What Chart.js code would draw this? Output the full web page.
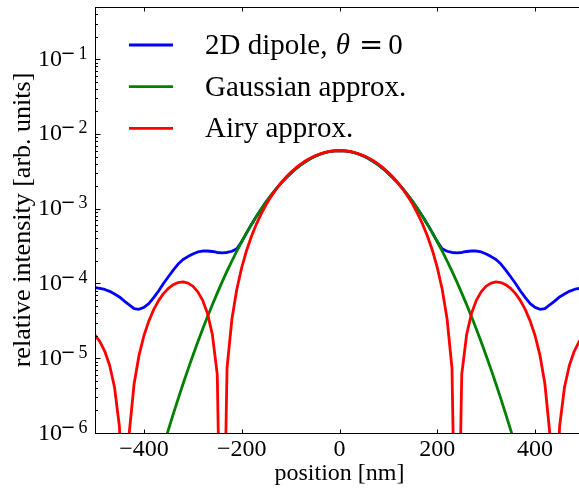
<!DOCTYPE html>
<html>
<head>
<meta charset="utf-8">
<title>Point spread function profiles</title>
<script src="https://cdn.jsdelivr.net/npm/chart.js@4.4.1/dist/chart.umd.min.js"></script>
<style>
  html, body { margin: 0; padding: 0; background: #fff; overflow: hidden; width: 579px; height: 488px; }
  canvas { display: block; }
</style>
</head>
<body>
<canvas id="psf" width="600" height="488" style="width:600px;height:488px"></canvas>
<script>
// Lateral position of each sample [nm]
const positions = [
  -500, -490, -480, -470, -460, -450, -440, -430, -420, -410,
  -400, -390, -380, -370, -360, -350, -340, -330, -320, -310,
  -300, -290, -280, -270, -260, -250, -240, -230, -220, -210,
  -200, -190, -180, -170, -160, -150, -140, -130, -120, -110,
  -100, -90, -80, -70, -60, -50, -40, -30, -20, -10,
  0,
  10, 20, 30, 40, 50, 60, 70, 80, 90, 100,
  110, 120, 130, 140, 150, 160, 170, 180, 190, 200,
  210, 220, 230, 240, 250, 260, 270, 280, 290, 300,
  310, 320, 330, 340, 350, 360, 370, 380, 390, 400,
  410, 420, 430, 440, 450, 460, 470, 480, 490, 500
];

// Relative intensity of the in-plane dipole (theta = 0)
const dipole = [
  8.81e-5, 8.61e-5, 8.32e-5, 7.85e-5, 7.24e-5, 6.61e-5, 5.82e-5, 5.19e-5, 4.62e-5, 4.52e-5,
  4.79e-5, 5.37e-5, 6.46e-5, 7.94e-5, 1.00e-4, 1.23e-4, 1.51e-4, 1.82e-4, 2.09e-4, 2.29e-4,
  2.48e-4, 2.64e-4, 2.72e-4, 2.72e-4, 2.68e-4, 2.60e-4, 2.57e-4, 2.60e-4, 2.70e-4, 2.92e-4,
  3.63e-4, 4.75e-4, 6.17e-4, 7.88e-4, 9.94e-4, 1.236e-3, 1.515e-3, 1.831e-3, 2.183e-3, 2.565e-3,
  2.973e-3, 3.397e-3, 3.828e-3, 4.252e-3, 4.660e-3, 5.033e-3, 5.363e-3, 5.632e-3, 5.834e-3, 5.958e-3,
  6.00e-3,
  5.958e-3, 5.834e-3, 5.632e-3, 5.363e-3, 5.033e-3, 4.660e-3, 4.252e-3, 3.828e-3, 3.397e-3, 2.973e-3,
  2.565e-3, 2.183e-3, 1.831e-3, 1.515e-3, 1.236e-3, 9.94e-4, 7.88e-4, 6.17e-4, 4.75e-4, 3.63e-4,
  2.92e-4, 2.70e-4, 2.60e-4, 2.57e-4, 2.60e-4, 2.68e-4, 2.72e-4, 2.72e-4, 2.64e-4, 2.48e-4,
  2.29e-4, 2.09e-4, 1.82e-4, 1.51e-4, 1.23e-4, 1.00e-4, 7.94e-5, 6.46e-5, 5.37e-5, 4.79e-5,
  4.52e-5, 4.62e-5, 5.19e-5, 5.82e-5, 6.61e-5, 7.24e-5, 7.85e-5, 8.32e-5, 8.61e-5, 8.81e-5
];

// Gaussian approximation of the spot
const gaussian = [
  1.42e-10, 2.85e-10, 5.64e-10, 1.10e-9, 2.11e-9, 4.00e-9, 7.47e-9, 1.38e-8, 2.50e-8, 4.48e-8,
  7.91e-8, 1.38e-7, 2.37e-7, 4.01e-7, 6.69e-7, 1.101e-6, 1.788e-6, 2.86e-6, 4.52e-6, 7.04e-6,
  1.079e-5, 1.633e-5, 2.44e-5, 3.59e-5, 5.21e-5, 7.44e-5, 1.050e-4, 1.461e-4, 2.00e-4, 2.71e-4,
  3.62e-4, 4.75e-4, 6.17e-4, 7.88e-4, 9.94e-4, 1.236e-3, 1.515e-3, 1.831e-3, 2.183e-3, 2.565e-3,
  2.973e-3, 3.397e-3, 3.828e-3, 4.252e-3, 4.660e-3, 5.033e-3, 5.363e-3, 5.632e-3, 5.834e-3, 5.958e-3,
  6.00e-3,
  5.958e-3, 5.834e-3, 5.632e-3, 5.363e-3, 5.033e-3, 4.660e-3, 4.252e-3, 3.828e-3, 3.397e-3, 2.973e-3,
  2.565e-3, 2.183e-3, 1.831e-3, 1.515e-3, 1.236e-3, 9.94e-4, 7.88e-4, 6.17e-4, 4.75e-4, 3.62e-4,
  2.71e-4, 2.00e-4, 1.461e-4, 1.050e-4, 7.44e-5, 5.21e-5, 3.59e-5, 2.44e-5, 1.633e-5, 1.079e-5,
  7.04e-6, 4.52e-6, 2.86e-6, 1.788e-6, 1.101e-6, 6.69e-7, 4.01e-7, 2.37e-7, 1.38e-7, 7.91e-8,
  4.48e-8, 2.50e-8, 1.38e-8, 7.47e-9, 4.00e-9, 2.11e-9, 1.10e-9, 5.64e-10, 2.85e-10, 1.42e-10
];

// Airy-disc approximation of the spot
const airy = [
  2.04e-5, 1.67e-5, 1.24e-5, 8.01e-6, 4.06e-6, 1.21e-6, 7.6e-9, 9.98e-7, 4.57e-6, 1.09e-5,
  2.00e-5, 3.14e-5, 4.47e-5, 5.91e-5, 7.31e-5, 8.61e-5, 9.63e-5, 1.029e-4, 1.048e-4, 1.011e-4,
  9.22e-5, 7.79e-5, 5.99e-5, 3.99e-5, 2.08e-5, 6.09e-6, 1.2e-9, 7.42e-6, 3.35e-5, 8.37e-5,
  1.632e-4, 2.77e-4, 4.28e-4, 6.21e-4, 8.56e-4, 1.135e-3, 1.454e-3, 1.81e-3, 2.20e-3, 2.62e-3,
  3.05e-3, 3.49e-3, 3.93e-3, 4.35e-3, 4.75e-3, 5.10e-3, 5.41e-3, 5.66e-3, 5.85e-3, 5.96e-3,
  6.00e-3,
  5.96e-3, 5.85e-3, 5.66e-3, 5.41e-3, 5.10e-3, 4.75e-3, 4.35e-3, 3.93e-3, 3.49e-3, 3.05e-3,
  2.62e-3, 2.20e-3, 1.81e-3, 1.454e-3, 1.135e-3, 8.56e-4, 6.21e-4, 4.28e-4, 2.77e-4, 1.632e-4,
  8.37e-5, 3.35e-5, 7.42e-6, 1.2e-9, 6.09e-6, 2.08e-5, 3.99e-5, 5.99e-5, 7.79e-5, 9.22e-5,
  1.011e-4, 1.048e-4, 1.029e-4, 9.63e-5, 8.61e-5, 7.31e-5, 5.91e-5, 4.47e-5, 3.14e-5, 2.00e-5,
  1.09e-5, 4.57e-6, 9.98e-7, 7.6e-9, 1.21e-6, 4.06e-6, 8.01e-6, 1.24e-5, 1.67e-5, 2.04e-5
];

const seriesLabels = ['2D dipole, \u03B8 = 0', 'Gaussian approx.', 'Airy approx.'];
const seriesColors = ['#0000ff', '#008000', '#ff0000'];
const xTicks = [-400, -200, 0, 200, 400];
const yDecades = [-6, -5, -4, -3, -2, -1];

const SERIF = '"Liberation Serif", "DejaVu Serif", serif';
const MINUS = '\u2212';

const toPoints = values => values.map((v, i) => ({ x: positions[i], y: v }));

// Minor tick values (2..9 x each decade) for the log axis
const yMinor = [];
yDecades.forEach(e => {
  for (let m = 2; m <= 9; m++) {
    const v = m * Math.pow(10, e);
    if (v <= 0.5) yMinor.push(v);
  }
});

// Frame, inward ticks, superscript tick labels and in-plot legend
const decorations = {
  id: 'decorations',
  afterDatasetsDraw(chart) {
    const { ctx, chartArea: a, scales: { x, y } } = chart;
    ctx.save();
    ctx.strokeStyle = '#000';
    ctx.lineWidth = 1;
    const L = a.left + 0.5, R = a.right + 0.5, T = a.top + 0.5, B = a.bottom + 0.5;
    ctx.strokeRect(L, T, R - L, B - T);

    ctx.beginPath();
    xTicks.forEach(v => {
      const px = Math.round(x.getPixelForValue(v)) + 0.5;
      ctx.moveTo(px, B); ctx.lineTo(px, B - 4);
      ctx.moveTo(px, T); ctx.lineTo(px, T + 4);
    });
    yDecades.forEach(e => {
      const py = Math.round(y.getPixelForValue(Math.pow(10, e))) + 0.5;
      ctx.moveTo(L, py); ctx.lineTo(L + 5, py);
      ctx.moveTo(R, py); ctx.lineTo(R - 5, py);
    });
    yMinor.forEach(v => {
      const py = Math.round(y.getPixelForValue(v)) + 0.5;
      ctx.moveTo(L, py); ctx.lineTo(L + 2.5, py);
      ctx.moveTo(R, py); ctx.lineTo(R - 2.5, py);
    });
    ctx.stroke();

    // y tick labels: 10 with a raised exponent
    ctx.fillStyle = '#000';
    ctx.textBaseline = 'alphabetic';
    ctx.textAlign = 'left';
    const right = a.left - 7.5;
    yDecades.forEach(e => {
      const py = y.getPixelForValue(Math.pow(10, e));
      const digit = String(Math.abs(e));
      ctx.font = '18px ' + SERIF;
      const dw = ctx.measureText(digit).width;
      const digitX = right - dw;
      ctx.fillText(digit, digitX, py - 0.5);
      const minusX = digitX - 18;
      ctx.font = '18px "DejaVu Sans", sans-serif';
      ctx.fillText(MINUS, minusX, py - 0.5);
      ctx.font = '24px ' + SERIF;
      ctx.textAlign = 'right';
      ctx.fillText('10', minusX + 1.5, py + 6.5);
      ctx.textAlign = 'left';
    });

    // legend
    const rowY = [45, 86.7, 128.3];
    chart.data.datasets.forEach((ds, i) => {
      const ly = rowY[i];
      ctx.strokeStyle = ds.borderColor;
      ctx.lineWidth = 2.8;
      ctx.beginPath();
      ctx.moveTo(129, ly); ctx.lineTo(173, ly);
      ctx.stroke();

      ctx.fillStyle = '#000';
      ctx.textAlign = 'left';
      ctx.textBaseline = 'alphabetic';
      const base = ly + 9;
      const label = ds.label;
      const k = label.indexOf('\u03B8');
      ctx.font = '29px ' + SERIF;
      if (k < 0) {
        ctx.fillText(label, 205, base);
      } else {
        const head = label.slice(0, k);
        ctx.fillText(head, 205, base);
        let cx = 205 + ctx.measureText(head).width + 1;
        ctx.font = 'italic 29px ' + SERIF;
        ctx.fillText('\u03B8', cx, base);
        cx += ctx.measureText('\u03B8').width + 9;
        const tail = label.slice(k + 1).trim().split(' ');
        ctx.font = '29px "DejaVu Sans", sans-serif';
        ctx.fillText(tail[0], cx, base);
        cx += ctx.measureText(tail[0]).width + 5;
        ctx.font = '29px ' + SERIF;
        ctx.fillText(tail[1], cx, base);
      }
    });
    ctx.restore();
  }
};

new Chart(document.getElementById('psf'), {
  type: 'line',
  data: {
    datasets: [
      { label: seriesLabels[0], data: toPoints(dipole), borderColor: seriesColors[0], order: 3 },
      { label: seriesLabels[1], data: toPoints(gaussian), borderColor: seriesColors[1], order: 2 },
      { label: seriesLabels[2], data: toPoints(airy), borderColor: seriesColors[2], order: 1 }
    ]
  },
  options: {
    responsive: false,
    animation: false,
    devicePixelRatio: 1,
    layout: { padding: { left: 0, top: 7, right: 16, bottom: 0 } },
    elements: {
      point: { radius: 0, hoverRadius: 0 },
      line: { tension: 0, borderWidth: 2.8, fill: false, borderJoinStyle: 'round' }
    },
    plugins: { legend: { display: false }, tooltip: { enabled: false } },
    scales: {
      x: {
        type: 'linear',
        min: -500,
        max: 500,
        afterBuildTicks: s => { s.ticks = xTicks.map(v => ({ value: v })); },
        afterFit: s => { s.height = 55; },
        grid: { display: false, drawTicks: false },
        border: { display: false },
        ticks: {
          color: '#000',
          font: { family: SERIF, size: 24 },
          padding: 2,
          maxRotation: 0,
          autoSkip: false,
          callback: v => (v < 0 ? MINUS + Math.abs(v) : String(v))
        },
        title: {
          display: true,
          text: 'position [nm]',
          color: '#000',
          font: { family: SERIF, size: 24 },
          padding: { top: 0, bottom: 0 }
        }
      },
      y: {
        type: 'logarithmic',
        min: 1e-6,
        max: 0.5,
        afterFit: s => { s.width = 95; },
        grid: { display: false, drawTicks: false },
        border: { display: false },
        ticks: { display: false },
        title: {
          display: true,
          text: 'relative intensity [arb. units]',
          color: '#000',
          font: { family: SERIF, size: 26 },
          padding: { top: 8, bottom: 0 }
        }
      }
    }
  },
  plugins: [decorations]
});
</script>
</body>
</html>
